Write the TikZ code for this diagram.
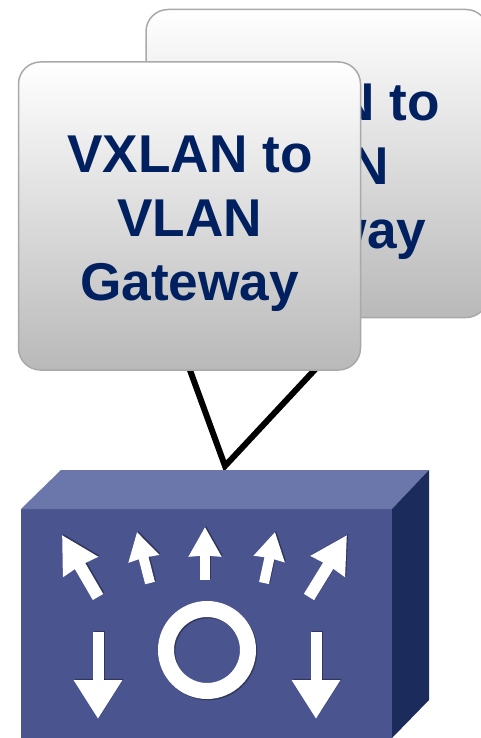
\documentclass[tikz,border=0pt]{standalone}
\usepackage{fontspec}
\setmainfont{Liberation Sans}
\usetikzlibrary{arrows.meta}
\definecolor{boxedge}{HTML}{A9A9A9}
\definecolor{boxlow}{HTML}{B9B9B9}
\definecolor{label}{HTML}{002060}
\definecolor{hubfront}{HTML}{4A548F}
\definecolor{hubtop}{HTML}{6B77AB}
\definecolor{hubside}{HTML}{1B2C5C}
\tikzset{
  gateway/.style={draw=boxedge,line width=1.5pt,rounded corners=22pt,
    top color=white,bottom color=boxlow,minimum width=342pt,minimum height=308pt,
    inner sep=0pt,align=center,text=label,
    font=\fontsize{53.2}{64}\selectfont\bfseries},
  uplink/.style={line width=6pt,line join=miter},
  iconshadow/.style={black,opacity=.35},
  iconwhite/.style={white},
}
% \hubarrow{tail}{tip}{shaft}{head length}{head width}{inset}
\newcommand{\hubarrow}[6]{%
  \draw[iconshadow,line width=#3pt,-{Stealth[inset=#6pt,length=#4pt,width=#5pt]}]
    ([shift={(1.2pt,1.2pt)}]#1) -- ([shift={(1.2pt,1.2pt)}]#2);
  \draw[iconwhite,line width=#3pt,-{Stealth[inset=#6pt,length=#4pt,width=#5pt]}] (#1) -- (#2);
}
\begin{document}
\begin{tikzpicture}[x=1pt,y=-1pt]
\useasboundingbox (0,0) rectangle (481,738);
\clip (0,0) rectangle (481,738);
\fill[white] (0,0) rectangle (481,738);
% uplinks
\coordinate (apex) at (225,466);
\coordinate (linkleft) at (187,362);
\coordinate (linkright) at (322,362);
\draw[uplink] (linkleft) -- (apex) -- (linkright);
% gateways
\node[gateway] (back) at (317,163.5) {\rule{0pt}{53pt}VXLAN to\\VLAN\\Gateway};
\node[gateway] (front) at (189.5,216) {\rule{0pt}{53pt}\hspace{1pt}VXLAN to\\VLAN\\Gateway};
% switch body
\fill[hubfront] (21,509) rectangle (392,738);
\fill[hubtop] (21,509) -- (61,470) -- (429,470) -- (392,509) -- cycle;
\fill[hubside] (392,509) -- (429,470) -- (429,700) -- (392,738) -- cycle;
% switch icon
\hubarrow{98,597}{62,535}{12}{36}{38}{.5}
\hubarrow{150,583}{137,532}{10}{27}{30}{.5}
\hubarrow{205,580}{205,527}{10}{29}{31}{.5}
\hubarrow{264,583}{275,532}{10}{27}{30}{.5}
\hubarrow{309,597}{347,535}{12}{36}{38}{.5}
\hubarrow{98,632}{98,719}{11}{39}{46}{0}
\hubarrow{316,632}{316,719}{11}{39}{46}{0}
\draw[iconshadow,line width=16pt] (208.2,651.2) circle (41);
\draw[iconwhite,line width=16pt] (207,650) circle (41);
\end{tikzpicture}
\end{document}
